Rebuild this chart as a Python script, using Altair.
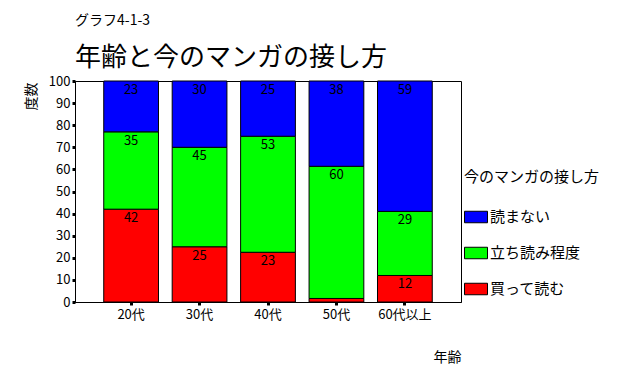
import altair as alt
import pandas as pd

ages = ["20代", "30代", "40代", "50代", "60代以上"]
cats = ["買って読む", "立ち読み程度", "読まない"]  # bottom to top
colors = ["#FF0000", "#00FF00", "#0000FF"]
buy = [42, 25, 22.5, 1.6, 12]
stand = [35, 45, 52.5, 59.8, 29]
none_ = [23, 30, 25, 38.6, 59]
buy_lbl = ["42", "25", "23", "", "12"]
stand_lbl = ["35", "45", "53", "60", "29"]
none_lbl = ["23", "30", "25", "38", "59"]
yticks = [0, 10, 20, 30, 40, 50, 60, 70, 80, 90, 100]

rows = []
for i, a in enumerate(ages):
    for k, (vals, lbls) in enumerate([(buy, buy_lbl), (stand, stand_lbl), (none_, none_lbl)]):
        rows.append({"age": a, "cat": cats[k], "order": k, "value": vals[i], "label": lbls[i]})
df = pd.DataFrame(rows)

FONT = "Noto Sans CJK JP"

base = alt.Chart(df).transform_stack(
    stack="value", groupby=["age"], sort=[alt.SortField("order", order="ascending")], as_=["y0", "y1"]
)

xaxis = alt.Axis(labelAngle=0, labelFontSize=13, labelFont=FONT, labelColor="black",
                 tickSize=3, tickWidth=3, tickColor="black", domainColor="black",
                 labelPadding=3, titleFont=FONT, titleFontSize=14, titleFontWeight="normal",
                 titleAnchor="end", titleAlign="right", titlePadding=29, titleColor="black")
xscale = alt.Scale(paddingInner=0.2, paddingOuter=0.42)
yaxis = alt.Axis(values=yticks, grid=False, labelOverlap=False, tickCount=11,
                 labelFontSize=13, labelFont=FONT,
                 labelColor="black", tickSize=3, tickWidth=3, tickColor="black",
                 domainColor="black", labelPadding=2,
                 titleFont=FONT, titleFontSize=14, titleFontWeight="normal", titleColor="black",
                 titleAngle=-90, titleAlign="right", titleBaseline="middle",
                 titleX=-44, titleY=1)
yscale = alt.Scale(domain=[0, 100], nice=False, zero=True)

bars = base.mark_bar(stroke="black", strokeWidth=1, opacity=1).encode(
    x=alt.X("age:N", sort=ages, title="年齢", scale=xscale, axis=xaxis),
    y=alt.Y("y0:Q", scale=yscale, title="度数", axis=yaxis),
    y2="y1:Q",
    color=alt.Color("cat:N", scale=alt.Scale(domain=cats[::-1], range=colors[::-1]),
                    legend=alt.Legend(title="今のマンガの接し方", orient="none", legendX=389, legendY=89,
                                      titleFont=FONT, titleFontSize=15, titleFontWeight="normal",
                                      titleColor="black", titlePadding=20,
                                      labelFont=FONT, labelFontSize=15, labelColor="black", labelOffset=2,
                                      symbolType="M-1,-0.5H1V0.5H-1Z", symbolSize=529,
                                      symbolStrokeColor="black", symbolStrokeWidth=1,
                                      symbolOpacity=1, rowPadding=16)),
)

texts = base.transform_filter(alt.datum.label != "").mark_text(
    baseline="top", dy=3, fontSize=13, font=FONT, color="black"
).encode(
    x=alt.X("age:N", sort=ages, title="年齢", scale=xscale, axis=xaxis),
    y=alt.Y("y1:Q", scale=yscale, title="度数", axis=yaxis),
    text="label:N",
)

chart = alt.layer(bars, texts).properties(
    width=386, height=221,
    background="white",
    title=alt.TitleParams(text="グラフ4-1-3", subtitle="年齢と今のマンガの接し方", anchor="start",
                          frame="group",
                          font=FONT, fontSize=14, fontWeight="normal", color="black",
                          subtitleFont=FONT, subtitleFontSize=26, subtitleColor="black",
                          subtitlePadding=17, offset=4),
    autosize=alt.AutoSizeParams(type="none"),
    padding={"left": 67, "top": 73, "right": 152, "bottom": 63},
).configure_view(stroke="black", strokeWidth=1)

chart.save("out.html", embed_options={"renderer": "svg", "actions": False})
